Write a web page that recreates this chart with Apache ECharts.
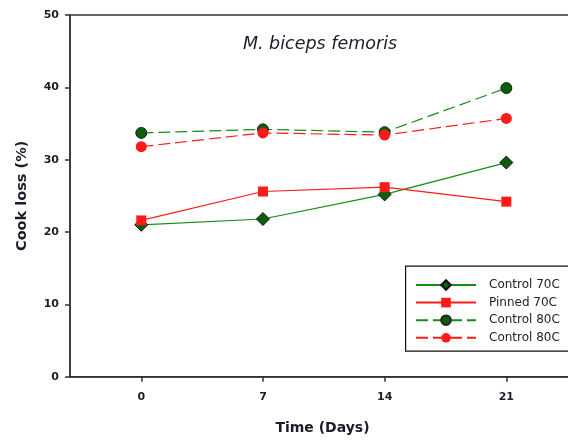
<!DOCTYPE html>
<html><head><meta charset="utf-8">
<script src="https://cdn.jsdelivr.net/npm/echarts@6/dist/echarts.min.js"></script>
<style>html,body{margin:0;padding:0;background:#fff}#c{width:568px;height:440px}</style>
</head><body><div id="c"></div>
<script>
const days = [0, 7, 14, 21];
const yTicks = [0, 10, 20, 30, 40, 50];
const control70 = [21.0, 21.8, 25.2, 29.6];
const pinned70 = [21.6, 25.6, 26.2, 24.2];
const control80a = [33.7, 34.2, 33.8, 39.9];
const control80b = [31.8, 33.7, 33.4, 35.7];
const names = ['Control 70C', 'Pinned 70C', 'Control 80C', 'Control 80C '];

const txt = '#1c1c2c';
const ff = 'DejaVu Sans, Verdana, sans-serif';
const green = '#168c16', dkgreen = '#0b5f0b', red = '#ff1a1a';
function pts(arr){ return days.map((d,i)=>[d, arr[i]]); }

const chart = echarts.init(document.getElementById('c'), null, {renderer:'canvas'});
chart.setOption({
  animation:false,
  title:{text:'M. biceps femoris', left:315, top:30, textAlign:'center',
    textStyle:{fontFamily:ff, fontStyle:'italic', fontWeight:'normal', fontSize:17.5, color:txt}},
  grid:{left:70, top:15, width:505, height:361.7, outerBoundsMode:'none', containLabel:false,
    show:true, borderColor:'#333', borderWidth:1.5},
  xAxis:{type:'value', min:-4.1, max:24.95,
    name:'Time (Days)', nameLocation:'middle', nameGap:45,
    nameTextStyle:{fontFamily:ff, fontWeight:'bold', fontSize:14, color:txt},
    axisLine:{show:true, onZero:false, lineStyle:{color:'#333', width:1.5}},
    axisTick:{show:true, customValues:days, length:5, lineStyle:{color:'#333', width:1.5}},
    axisLabel:{customValues:days, margin:15, fontFamily:ff, fontWeight:'bold', fontSize:11, color:txt},
    splitLine:{show:false}},
  yAxis:{type:'value', min:0, max:50, interval:10,
    name:'Cook loss (%)', nameLocation:'middle', nameGap:40, nameRotate:90,
    nameTextStyle:{fontFamily:ff, fontWeight:'bold', fontSize:14.5, color:txt},
    axisLine:{show:true, onZero:false, lineStyle:{color:'#333', width:1.5}},
    axisTick:{show:true, length:5, lineStyle:{color:'#333', width:1.5}},
    axisLabel:{customValues:yTicks, margin:11, fontFamily:ff, fontWeight:'bold', fontSize:11, color:txt},
    splitLine:{show:false}},
  graphic:[{type:'rect', left:405, top:265.5, z:100, silent:true,
    shape:{width:200, height:85}, style:{fill:'#fff', stroke:'#111', lineWidth:1.2}}],
  legend:{orient:'vertical', left:405, top:267, itemWidth:60, itemHeight:12, itemGap:5.6, z:200,
    padding:[12,20,9,10],
    textStyle:{fontFamily:ff, fontSize:12, color:txt, padding:[0,0,0,8]},
    data:names},
  series:[
    {name:names[0], type:'line', data:pts(control70), symbol:'diamond', symbolSize:[13,13],
      lineStyle:{color:green, width:1.2}, itemStyle:{color:dkgreen, borderColor:'#111', borderWidth:1}},
    {name:names[1], type:'line', data:pts(pinned70), symbol:'rect', symbolSize:10,
      lineStyle:{color:red, width:1.2}, itemStyle:{color:red, borderColor:red, borderWidth:0}},
    {name:names[2], type:'line', data:pts(control80a), symbol:'circle', symbolSize:11,
      lineStyle:{color:green, width:1.2, type:[12,5]}, itemStyle:{color:dkgreen, borderColor:'#222', borderWidth:1}},
    {name:names[3], type:'line', data:pts(control80b), symbol:'circle', symbolSize:11,
      lineStyle:{color:red, width:1.2, type:[12,5]}, itemStyle:{color:red, borderWidth:0}}
  ]
});
</script></body></html>
